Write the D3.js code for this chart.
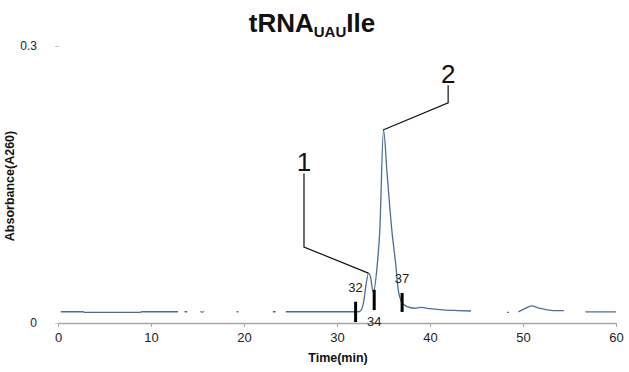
<!DOCTYPE html>
<html>
<head>
<meta charset="utf-8">
<script src="https://cdn.jsdelivr.net/npm/d3@7"></script>
<style>
	body { margin: 0; background: #fff; }
	svg { display: block; font-family: "Liberation Sans", Arial, sans-serif; }
</style>
</head>
<body>
<div id="chart"></div>
<script>
/* global d3 */

// trace (minutes, A260); null marks a break in the drawn line
var traceTime = [
	0.3, 2.7, 2.9, 8.8, 9.0, 12.9, 13.0,
	13.6, 13.9, 14.0,
	15.3, 15.5, 15.7, 15.8,
	19.2, 19.4, 19.5,
	23.1, 23.4, 23.5,
	24.5, 32.3, 32.6, 32.9, 33.1, 33.4, 33.6, 33.9, 34.3, 34.6, 35.0, 35.4, 35.9, 36.3, 36.6, 37.0, 37.5, 38.3, 39.0, 40.0, 41.7, 43.0, 44.4, 44.5,
	48.3, 48.5, 48.6,
	49.5, 50.2, 50.9, 51.6, 52.5, 53.3, 54.4, 54.5,
	56.7, 60.0
];
var traceValue = [
	0.0122, 0.0122, 0.0115, 0.0115, 0.0122, 0.0122, null,
	0.0122, 0.0122, null,
	0.0125, 0.0118, 0.0125, null,
	0.0122, 0.0122, null,
	0.0122, 0.0122, null,
	0.0122, 0.0122, 0.014, 0.025, 0.04, 0.054, 0.05, 0.033, 0.06, 0.10, 0.209, 0.16, 0.10, 0.065, 0.035, 0.022, 0.018, 0.016, 0.017, 0.0155, 0.014, 0.0135, 0.013, null,
	0.0115, 0.0115, null,
	0.012, 0.0155, 0.0185, 0.0165, 0.0145, 0.0135, 0.0135, null,
	0.012, 0.012
];

// collected fractions
var fractionTime = [32, 34, 37];
var fractionLow = [0.001, 0.014, 0.012];
var fractionHigh = [0.023, 0.036, 0.0325];
var fractionLabel = ["32", "34", "37"];
var fractionLabelSide = ["top", "bottom", "top"];

// peak callouts
var peakName = ["1", "2"];
var peakTime = [33.37, 34.95];
var peakValue = [0.054, 0.209];
var calloutTime = [26.45, 41.95];
var calloutElbow = [0.0823, 0.2385];
var calloutTop = [0.162, 0.2575];

var xTicks = [0, 10, 20, 30, 40, 50, 60];
var yTicks = [0, 0.3];

var width = 629,
	height = 372,
	lineColor = "#4d6f94",
	svg, x, y, line, trace;

svg = d3.select("#chart").append("svg")
	.attr("width", width)
	.attr("height", height);

x = d3.scaleLinear().domain([0, 60]).range([58, 616]);
y = d3.scaleLinear().domain([0, 0.3]).range([323, 46]);

// title with subscript
var title = svg.append("text")
	.attr("x", 312)
	.attr("y", 32)
	.attr("text-anchor", "middle")
	.attr("font-weight", "bold")
	.attr("fill", "#111");
title.append("tspan").attr("font-size", 26).text("tRNA");
title.append("tspan").attr("font-size", 15).attr("dy", 5).text("UAU");
title.append("tspan").attr("font-size", 26).attr("dy", -5).text("Ile");

// x axis
var xAxis = svg.append("g")
	.attr("transform", "translate(0," + y(0) + ")")
	.call(d3.axisBottom(x).tickValues(xTicks).tickSize(4).tickSizeOuter(0).tickPadding(6));
xAxis.select(".domain").attr("stroke", "#a8a8a8").attr("stroke-width", 1.3);
xAxis.selectAll(".tick line").attr("stroke", "#a8a8a8");
xAxis.selectAll(".tick text")
	.attr("font-size", 13)
	.attr("fill", "#222")
	.attr("font-family", "Liberation Sans, Arial, sans-serif");

// y axis
var yAxis = svg.append("g")
	.attr("transform", "translate(59,0)")
	.call(d3.axisLeft(y).tickValues(yTicks).tickSize(4).tickPadding(18)
		.tickFormat(function(d) { return d === 0 ? "0" : d3.format(".1f")(d); }));
yAxis.select(".domain").remove();
yAxis.selectAll(".tick line").attr("stroke", "#c4c4c4");
yAxis.selectAll(".tick text")
	.attr("font-size", 12)
	.attr("fill", "#222")
	.attr("font-family", "Liberation Sans, Arial, sans-serif");

// axis titles
svg.append("text")
	.attr("transform", "translate(14,186) rotate(-90)")
	.attr("text-anchor", "middle")
	.attr("font-size", 12.5)
	.attr("font-weight", "bold")
	.attr("fill", "#111")
	.text("Absorbance(A260)");

svg.append("text")
	.attr("x", 338)
	.attr("y", 362)
	.attr("text-anchor", "middle")
	.attr("font-size", 12.5)
	.attr("font-weight", "bold")
	.attr("fill", "#111")
	.text("Time(min)");

// chromatogram trace
trace = traceTime.map(function(t, i) { return {t: t, v: traceValue[i]}; });

line = d3.line()
	.defined(function(d) { return d.v !== null; })
	.curve(d3.curveMonotoneX)
	.x(function(d) { return x(d.t); })
	.y(function(d) { return y(d.v); });

svg.append("path")
	.datum(trace)
	.attr("fill", "none")
	.attr("stroke", lineColor)
	.attr("stroke-width", 1.3)
	.attr("stroke-linejoin", "round")
	.attr("d", line);

// callout lines to peaks
var callouts = peakName.map(function(n, i) {
	return {
		name: n,
		pts: [
			[calloutTime[i], calloutTop[i]],
			[calloutTime[i], calloutElbow[i]],
			[peakTime[i], peakValue[i]]
		]
	};
});

svg.append("g")
	.selectAll("path")
	.data(callouts)
	.join("path")
	.attr("fill", "none")
	.attr("stroke", "#111")
	.attr("stroke-width", 1.2)
	.attr("d", function(d) {
		return d3.line()
			.x(function(p) { return x(p[0]); })
			.y(function(p) { return y(p[1]); })(d.pts);
	});

svg.append("g")
	.selectAll("text")
	.data(callouts)
	.join("text")
	.attr("x", function(d) { return x(d.pts[0][0]); })
	.attr("y", function(d) { return y(d.pts[0][1]) - 2; })
	.attr("text-anchor", "middle")
	.attr("font-size", 26)
	.attr("fill", "#111")
	.text(function(d) { return d.name; });

// fraction markers
var fractions = fractionTime.map(function(t, i) {
	return {t: t, lo: fractionLow[i], hi: fractionHigh[i], label: fractionLabel[i], side: fractionLabelSide[i]};
});

svg.append("g")
	.selectAll("line")
	.data(fractions)
	.join("line")
	.attr("x1", function(d) { return x(d.t); })
	.attr("x2", function(d) { return x(d.t); })
	.attr("y1", function(d) { return y(d.lo); })
	.attr("y2", function(d) { return y(d.hi); })
	.attr("stroke", "#000")
	.attr("stroke-width", 3);

svg.append("g")
	.selectAll("text")
	.data(fractions)
	.join("text")
	.attr("x", function(d) { return x(d.t); })
	.attr("y", function(d) { return d.side === "top" ? y(d.hi) - 10 : y(d.lo) + 16; })
	.attr("text-anchor", "middle")
	.attr("font-size", 13)
	.attr("fill", "#222")
	.text(function(d) { return d.label; });
</script>
</body>
</html>
